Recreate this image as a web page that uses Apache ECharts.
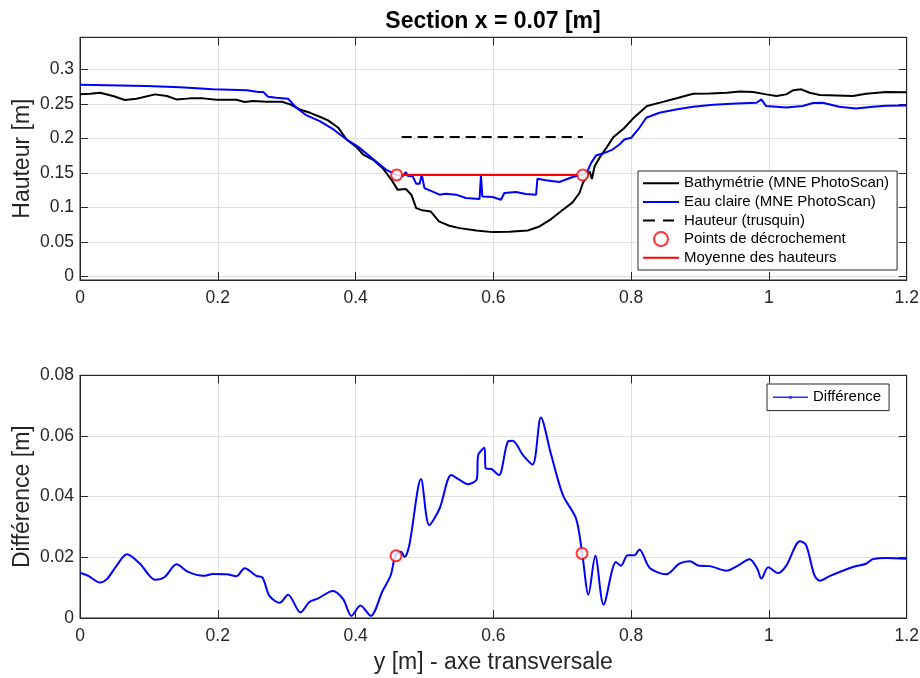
<!DOCTYPE html>
<html>
<head>
<meta charset="utf-8">
<script src="https://cdn.jsdelivr.net/npm/echarts@6/dist/echarts.min.js"></script>
<style>
html,body{margin:0;padding:0;background:#fff;}
#chart{width:920px;height:678px;}
</style>
</head>
<body>
<div id="chart"></div>
<script>
// ---------- data ----------
const bathyX = [0, 0.015, 0.029, 0.048, 0.065, 0.082, 0.109, 0.126, 0.140, 0.160, 0.179, 0.198, 0.227, 0.239, 0.251, 0.271, 0.293, 0.305, 0.319, 0.334, 0.348, 0.360, 0.375, 0.387, 0.401, 0.411, 0.425, 0.439, 0.452, 0.461, 0.473, 0.481, 0.488, 0.497, 0.509, 0.521, 0.536, 0.551, 0.575, 0.599, 0.623, 0.650, 0.667, 0.684, 0.701, 0.715, 0.725, 0.730, 0.737, 0.740, 0.743, 0.747, 0.754, 0.764, 0.774, 0.789, 0.803, 0.823, 0.842, 0.866, 0.890, 0.914, 0.939, 0.958, 0.977, 0.996, 1.011, 1.025, 1.035, 1.047, 1.059, 1.074, 1.098, 1.122, 1.141, 1.170, 1.2];
const bathyH = [0.2637, 0.2645, 0.266, 0.2613, 0.2555, 0.2574, 0.2637, 0.2613, 0.2564, 0.2579, 0.2579, 0.256, 0.256, 0.2526, 0.254, 0.253, 0.253, 0.2492, 0.2419, 0.237, 0.2313, 0.226, 0.2153, 0.1983, 0.1877, 0.1766, 0.1693, 0.1572, 0.1403, 0.1258, 0.1267, 0.1185, 0.0991, 0.0958, 0.0943, 0.0798, 0.0735, 0.0701, 0.0667, 0.0643, 0.0648, 0.0667, 0.0725, 0.0832, 0.0967, 0.1074, 0.1209, 0.1354, 0.1475, 0.152, 0.1412, 0.1597, 0.1717, 0.1862, 0.2015, 0.214, 0.229, 0.2468, 0.2517, 0.258, 0.2647, 0.2651, 0.2661, 0.268, 0.2671, 0.2637, 0.2613, 0.2637, 0.2695, 0.271, 0.2661, 0.2627, 0.2622, 0.2613, 0.2647, 0.2671, 0.2666];

const eauX = [0, 0.097, 0.145, 0.193, 0.242, 0.259, 0.266, 0.273, 0.285, 0.302, 0.314, 0.329, 0.348, 0.368, 0.387, 0.404, 0.425, 0.444, 0.459, 0.468, 0.473, 0.476, 0.483, 0.488, 0.493, 0.496, 0.500, 0.522, 0.531, 0.546, 0.560, 0.580, 0.582, 0.584, 0.599, 0.611, 0.616, 0.633, 0.647, 0.662, 0.664, 0.676, 0.696, 0.715, 0.735, 0.742, 0.749, 0.759, 0.773, 0.783, 0.790, 0.800, 0.812, 0.822, 0.841, 0.865, 0.890, 0.919, 0.953, 0.982, 0.989, 0.996, 1.025, 1.049, 1.064, 1.078, 1.102, 1.126, 1.151, 1.170, 1.2];
const eauH = [0.2777, 0.2758, 0.2739, 0.271, 0.2695, 0.2671, 0.2671, 0.2603, 0.2589, 0.2574, 0.2443, 0.2332, 0.225, 0.2129, 0.1983, 0.1877, 0.1703, 0.1548, 0.1475, 0.1451, 0.151, 0.1455, 0.145, 0.1344, 0.1344, 0.1475, 0.1281, 0.1185, 0.12, 0.1185, 0.1136, 0.1122, 0.146, 0.116, 0.1151, 0.1112, 0.1209, 0.1223, 0.1194, 0.1185, 0.1417, 0.1393, 0.1369, 0.1441, 0.149, 0.1645, 0.1751, 0.178, 0.1838, 0.1911, 0.1983, 0.2008, 0.2153, 0.2298, 0.2371, 0.2419, 0.2458, 0.2487, 0.2506, 0.2516, 0.2564, 0.2468, 0.2448, 0.2468, 0.2511, 0.2516, 0.2458, 0.2434, 0.2458, 0.2473, 0.2477];

const trusquinX = [0.467, 0.730];
const trusquinH = [0.202, 0.202];

const pointsX = [0.4597, 0.7297];
const pointsH = [0.1471, 0.1470];

const moyenneX = [0.4597, 0.7297];
const moyenneH = [0.147, 0.147];

const diffX = [0, 0.012, 0.029, 0.039, 0.053, 0.068, 0.087, 0.109, 0.123, 0.140, 0.157, 0.179, 0.193, 0.213, 0.227, 0.239, 0.256, 0.265, 0.275, 0.290, 0.302, 0.320, 0.333, 0.345, 0.367, 0.382, 0.394, 0.407, 0.422, 0.439, 0.451, 0.458, 0.466, 0.471, 0.478, 0.495, 0.507, 0.522, 0.539, 0.551, 0.563, 0.576, 0.578, 0.587, 0.589, 0.597, 0.608, 0.621, 0.628, 0.643, 0.657, 0.669, 0.684, 0.701, 0.720, 0.729, 0.738, 0.748, 0.760, 0.778, 0.785, 0.795, 0.805, 0.812, 0.827, 0.851, 0.870, 0.885, 0.899, 0.914, 0.938, 0.953, 0.972, 0.983, 0.989, 0.999, 1.013, 1.025, 1.045, 1.054, 1.066, 1.074, 1.088, 1.122, 1.141, 1.151, 1.170, 1.2];
const diffH = [0.0149, 0.0139, 0.0117, 0.0128, 0.0172, 0.0210, 0.0179, 0.0126, 0.0135, 0.0177, 0.0152, 0.0139, 0.0145, 0.0144, 0.0138, 0.0164, 0.0139, 0.0133, 0.0073, 0.0050, 0.0077, 0.0018, 0.0053, 0.0064, 0.0089, 0.0062, 0.0007, 0.0041, 0.0007, 0.0088, 0.0141, 0.0207, 0.0218, 0.0201, 0.0240, 0.0458, 0.0306, 0.0361, 0.0471, 0.0455, 0.0441, 0.0458, 0.0537, 0.0561, 0.0493, 0.0491, 0.0471, 0.0581, 0.0584, 0.0537, 0.0506, 0.0661, 0.0537, 0.0405, 0.0328, 0.0212, 0.0077, 0.0205, 0.0044, 0.0185, 0.0172, 0.0207, 0.0207, 0.0226, 0.0165, 0.0144, 0.0179, 0.0187, 0.0172, 0.0171, 0.0156, 0.0170, 0.0194, 0.0163, 0.0130, 0.0167, 0.0148, 0.0172, 0.0253, 0.0240, 0.0141, 0.0123, 0.0138, 0.0168, 0.0179, 0.0194, 0.0198, 0.0195];

const diffPointsX = [0.4587, 0.7287];
const diffPointsH = [0.0205, 0.0213];

const xTicks = [0, 0.2, 0.4, 0.6, 0.8, 1, 1.2];
const topYTicks = [0, 0.05, 0.1, 0.15, 0.2, 0.25, 0.3];
const bottomYTicks = [0, 0.02, 0.04, 0.06, 0.08];

const titleText = 'Section x = 0.07 [m]';
const topYName = 'Hauteur [m]';
const bottomYName = 'Différence [m]';
const bottomXName = 'y [m] - axe transversale';
const names = ['Bathymétrie (MNE PhotoScan)', 'Eau claire (MNE PhotoScan)', 'Hauteur (trusquin)', 'Points de décrochement', 'Moyenne des hauteurs'];
const diffName = 'Différence';

// ---------- build ----------
const zip = (xs, ys) => xs.map((x, i) => [x, ys[i]]);
const FONT = '"Liberation Sans", Arial, Helvetica, sans-serif';
const AX = '#262626';
const GRIDC = '#dfdfdf';

// legend icons (line samples) – bounding box fixed to itemWidth x itemHeight
const ICON_SOLID = 'path://M0,0M36,14M0,6L36,6L36,8L0,8Z';
const ICON_DASH = 'path://M0,0M36,14M0,6L12,6L12,8L0,8Z M20,6L31,6L31,8L20,8Z';
const ICON_DIFF = 'path://M0,0M35,14M0,6.2L35,6.2L35,7.8L0,7.8Z M16.3,5.6L18.7,5.6L18.7,8.4L16.3,8.4Z';

function xAxisCfg(grid, pos, withLabels, name) {
  return {
    type: 'value', gridIndex: grid, position: pos, min: 0, max: 1.2, interval: 0.2,
    axisLine: { show: true, onZero: false, lineStyle: { color: AX, width: 1 } },
    axisTick: { show: true, inside: true, length: 8, lineStyle: { color: AX, width: 1 } },
    axisLabel: { show: withLabels, fontSize: 17.5, color: AX, fontFamily: FONT, margin: 9 },
    splitLine: { show: withLabels, lineStyle: { color: GRIDC, width: 1 } },
    name: name || '', nameLocation: 'middle', nameGap: 33, nameMoveOverlap: false,
    nameTextStyle: { fontSize: 23, color: AX, fontFamily: FONT }
  };
}
function yAxisCfg(grid, pos, withLabels, min, max, ticks, name) {
  return {
    type: 'value', gridIndex: grid, position: pos, min: min, max: max,
    axisLine: { show: true, onZero: false, lineStyle: { color: AX, width: 1 } },
    axisTick: { show: true, inside: true, length: 8, customValues: ticks, lineStyle: { color: AX, width: 1 } },
    axisLabel: { show: withLabels, customValues: ticks, fontSize: 17.5, color: AX, fontFamily: FONT, margin: 6,
      formatter: v => String(+v.toFixed(4)) },
    splitLine: { show: withLabels, lineStyle: { color: GRIDC, width: 1 } },
    name: name || '', nameLocation: 'middle', nameGap: 46, nameMoveOverlap: false,
    nameTextStyle: { fontSize: 23, color: AX, fontFamily: FONT }
  };
}

const chart = echarts.init(document.getElementById('chart'), null, { renderer: 'canvas' });
chart.setOption({
  animation: false,
  backgroundColor: '#fff',
  textStyle: { fontFamily: FONT },
  title: {
    text: titleText, left: 493, top: 10.5, textAlign: 'center', padding: 0,
    textStyle: { fontSize: 23, fontWeight: 'bold', color: '#000', fontFamily: FONT }
  },
  grid: [
    { left: 80, right: 13.3, top: 37.3, bottom: 398, show: true, borderColor: AX, borderWidth: 1, backgroundColor: 'transparent', outerBoundsMode: 'none' },
    { left: 80, right: 13.3, top: 375.3, bottom: 60, show: true, borderColor: AX, borderWidth: 1, backgroundColor: 'transparent', outerBoundsMode: 'none' }
  ],
  xAxis: [
    xAxisCfg(0, 'bottom', true),
    xAxisCfg(0, 'top', false),
    xAxisCfg(1, 'bottom', true, bottomXName),
    xAxisCfg(1, 'top', false)
  ],
  yAxis: [
    yAxisCfg(0, 'left', true, -0.005, 0.3463, topYTicks, topYName),
    yAxisCfg(0, 'right', false, -0.005, 0.3463, topYTicks),
    yAxisCfg(1, 'left', true, 0, 0.08, bottomYTicks, bottomYName),
    yAxisCfg(1, 'right', false, 0, 0.08, bottomYTicks)
  ],
  legend: [
    {
      data: [
        { name: names[0], icon: ICON_SOLID, itemStyle: { color: '#000', borderWidth: 0 } },
        { name: names[1], icon: ICON_SOLID, itemStyle: { color: '#0000ff', borderWidth: 0 } },
        { name: names[2], icon: ICON_DASH, itemStyle: { color: '#000', borderWidth: 0 } },
        { name: names[3], icon: 'emptyCircle', itemStyle: { color: '#ff0000', borderColor: '#ff0000', borderWidth: 2 } },
        { name: names[4], icon: ICON_SOLID, itemStyle: { color: '#ff0000', borderWidth: 0 } }
      ],
      orient: 'vertical', left: 638, top: 171,
      itemWidth: 36, itemHeight: 14, itemGap: 0, padding: [3, 8, 3, 5],
      backgroundColor: '#fff', borderColor: AX, borderWidth: 1, borderRadius: 0,
      selectedMode: false,
      textStyle: { fontSize: 15, color: '#000', fontFamily: FONT, lineHeight: 18.6 }
    },
    {
      data: [{ name: diffName, icon: ICON_DIFF, itemStyle: { color: '#2a2aff', borderWidth: 0 } }],
      orient: 'vertical', left: 767, top: 384,
      itemWidth: 35, itemHeight: 14, itemGap: 0, padding: [4, 8, 4, 6],
      backgroundColor: '#fff', borderColor: AX, borderWidth: 1, borderRadius: 0,
      selectedMode: false,
      textStyle: { fontSize: 15, color: '#000', fontFamily: FONT, lineHeight: 18.6 }
    }
  ],
  series: [
    { name: names[0], type: 'line', xAxisIndex: 0, yAxisIndex: 0, data: zip(bathyX, bathyH), symbol: 'none',
      lineStyle: { color: '#000', width: 2 }, itemStyle: { color: '#000' } },
    { name: names[1], type: 'line', xAxisIndex: 0, yAxisIndex: 0, data: zip(eauX, eauH), symbol: 'none',
      lineStyle: { color: '#0000ff', width: 2 }, itemStyle: { color: '#0000ff' } },
    { name: names[2], type: 'line', xAxisIndex: 0, yAxisIndex: 0, data: zip(trusquinX, trusquinH), symbol: 'none',
      lineStyle: { color: '#000', width: 2, type: [10, 6] }, itemStyle: { color: '#000' } },
    { name: names[3], type: 'scatter', xAxisIndex: 0, yAxisIndex: 0, data: zip(pointsX, pointsH), symbol: 'emptyCircle', symbolSize: 11,
      itemStyle: { color: '#ff0000', borderColor: '#ff0000', borderWidth: 2 }, z: 4 },
    { name: names[4], type: 'line', xAxisIndex: 0, yAxisIndex: 0, data: zip(moyenneX, moyenneH), symbol: 'none',
      lineStyle: { color: '#ff0000', width: 2 }, itemStyle: { color: '#ff0000' }, z: 3 },
    { name: diffName, type: 'line', xAxisIndex: 2, yAxisIndex: 2, data: zip(diffX, diffH), symbol: 'none', smooth: 0.3,
      lineStyle: { color: '#0000ff', width: 2 }, itemStyle: { color: '#0000ff' } },
    { name: 'diffPoints', type: 'scatter', xAxisIndex: 2, yAxisIndex: 2, data: zip(diffPointsX, diffPointsH), symbol: 'emptyCircle', symbolSize: 11,
      itemStyle: { color: '#ff0000', borderColor: '#ff0000', borderWidth: 2 }, z: 4 }
  ]
});
</script>
</body>
</html>
